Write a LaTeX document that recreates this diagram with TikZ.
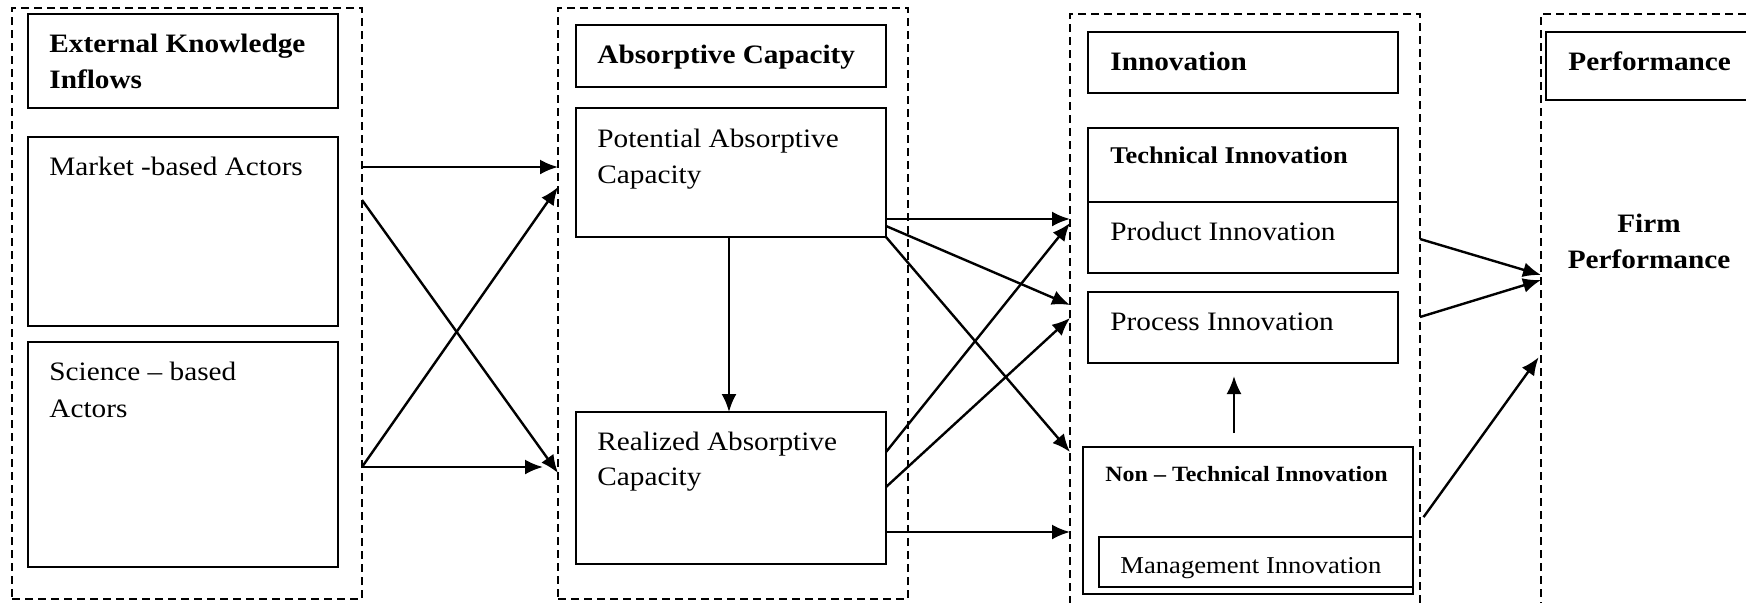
\documentclass[tikz,border=0pt]{standalone}
\usepackage{fontspec}
\setmainfont{Liberation Serif}[FakeStretch=1.1]
\usetikzlibrary{arrows.meta}
\begin{document}
\begin{tikzpicture}[x=0.5pt,y=-0.5pt,
  grp/.style={draw, line width=1.1pt, dash pattern=on 4pt off 2.5pt, inner sep=0pt, outer sep=0pt, anchor=north west},
  box/.style={draw, line width=1.4pt, inner sep=0pt, outer sep=0pt, anchor=north west},
  txt/.style={inner sep=0pt, anchor=base west, font=\fontsize{13.3pt}{18pt}\selectfont},
  btxt/.style={txt, font=\fontsize{13.3pt}{18pt}\selectfont\bfseries},
  arr/.style={line width=1.2pt, -{Latex[length=9pt,width=7.5pt]}}]
\useasboundingbox (0,0) rectangle (1746,602);
\clip (0,0) rectangle (1746,602);
% group boxes
\node[grp, minimum width=175pt, minimum height=295.5pt] (g1) at (12,8) {};
\node[grp, minimum width=175pt, minimum height=295.5pt] (g2) at (558,8) {};
\node[grp, minimum width=175pt, minimum height=295pt] (g3) at (1070,14) {};
\node[grp, minimum width=180pt, minimum height=295pt] (g4) at (1541,14) {};
% column 1
\node[box, minimum width=155pt, minimum height=47pt] (eki) at (28,14) {};
\node[box, minimum width=155pt, minimum height=94.5pt] (mk) at (28,137) {};
\node[box, minimum width=155pt, minimum height=112.5pt] (sc) at (28,342) {};
\node[btxt] (eki1) at (49,52) {External Knowledge};
\node[btxt] (eki2) at (49,88) {Inflows};
\node[txt] (mk1) at (49,175) {Market -based Actors};
\node[txt] (sc1) at (49,380) {Science – based};
\node[txt] (sc2) at (49,417) {Actors};
% column 2
\node[box, minimum width=155pt, minimum height=31pt] (ac) at (576,25) {};
\node[box, minimum width=155pt, minimum height=64.5pt] (pac) at (576,108) {};
\node[box, minimum width=155pt, minimum height=76pt] (rac) at (576,412) {};
\node[btxt] (ac1) at (597,63) {Absorptive Capacity};
\node[txt] (pac1) at (597,147) {Potential Absorptive};
\node[txt] (pac2) at (597,183) {Capacity};
\node[txt] (rac1) at (597,450) {Realized Absorptive};
\node[txt] (rac2) at (597,485) {Capacity};
% column 3
\node[box, minimum width=155pt, minimum height=30.5pt] (inn) at (1088,32) {};
\node[box, minimum width=155pt, minimum height=37pt] (tech) at (1088,128) {};
\node[box, minimum width=155pt, minimum height=35.5pt] (prod) at (1088,202) {};
\node[box, minimum width=155pt, minimum height=35.5pt] (proc) at (1088,292) {};
\node[box, minimum width=165pt, minimum height=73.5pt] (ntech) at (1083,447) {};
\node[box, minimum width=157pt, minimum height=25pt] (mgmt) at (1099,537) {};
\node[btxt] (inn1) at (1110,70) {Innovation};
\node[btxt, font=\fontsize{12pt}{16pt}\selectfont\bfseries] (tech1) at (1110,163) {Technical Innovation};
\node[txt] (prod1) at (1110,240) {Product Innovation};
\node[txt] (proc1) at (1110,330) {Process Innovation};
\node[btxt, font=\fontsize{10.9pt}{14pt}\selectfont\bfseries] (ntech1) at (1105,481) {Non – Technical Innovation};
\node[txt, font=\fontsize{12.1pt}{16pt}\selectfont] (mgmt1) at (1120,573) {Management Innovation};
% column 4
\node[box, minimum width=180pt, minimum height=34pt] (perf) at (1546,32) {};
\node[btxt] (perf1) at (1568,70) {Performance};
\node[btxt, anchor=base] (firm1) at (1649,232) {Firm};
\node[btxt, anchor=base] (firm2) at (1649,268) {Performance};
% arrows col1 -> col2
\draw[arr] (g1.east |- 0,167) -- (g2.west |- 0,167);
\draw[arr] (g1.east |- 0,200) -- (g2.west |- 0,473);
\draw[arr] (g1.east |- 0,467) -- (g2.west |- 0,187);
\draw[arr, shorten >=7.5pt] (g1.east |- 0,467) -- (g2.west |- 0,467);
% potential -> realized
\draw[arr] (pac.south -| 729,0) -- (rac.north -| 729,0);
% col2 -> col3
\draw[arr] (pac.east |- 0,219) -- (g3.west |- 0,219);
\draw[arr] (pac.east |- 0,226) -- (g3.west |- 0,305);
\draw[arr] (pac.south east) -- (g3.west |- 0,452);
\draw[arr] (rac.east |- 0,452) -- (g3.west |- 0,223);
\draw[arr] (rac.east |- 0,487) -- (g3.west |- 0,318);
\draw[arr] (rac.east |- 0,532) -- (g3.west |- 0,532);
% non-technical -> process
\draw[arr, shorten <=7pt, shorten >=6.5pt] (ntech.north -| 1234,0) -- (proc.south -| 1234,0);
% col3 -> col4
\draw[arr] (g3.east |- 0,239) -- (g4.west |- 0,275);
\draw[arr] (g3.east |- 0,317) -- (g4.west |- 0,280);
\draw[arr, shorten <=3pt, shorten >=2pt] (g3.east |- 0,522) -- (g4.west |- 0,354);
\end{tikzpicture}
\end{document}
